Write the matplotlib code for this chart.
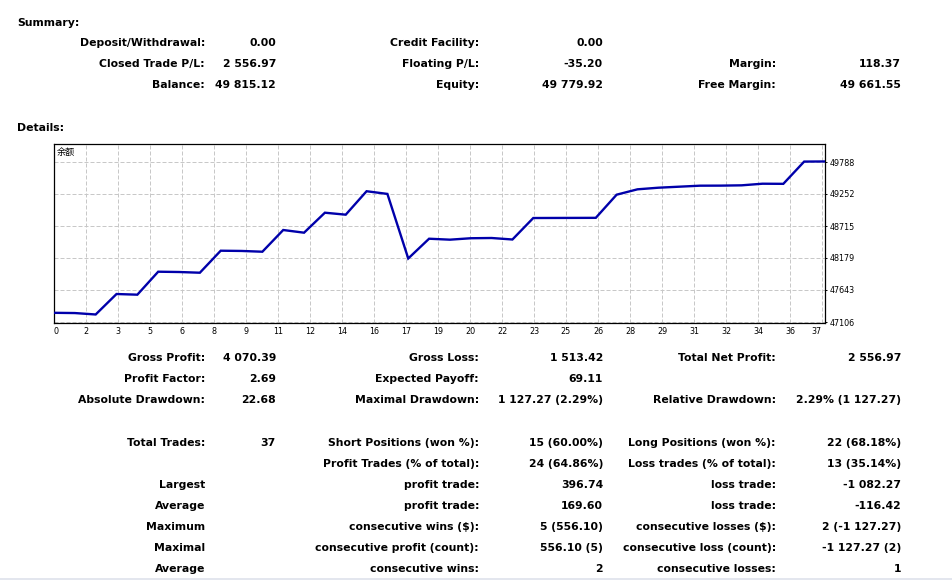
import matplotlib
matplotlib.use("Agg")
import matplotlib.pyplot as plt
import numpy as np

plt.rcParams['font.family'] = ['DejaVu Sans', 'Noto Sans CJK SC']
plt.rcParams['lines.scale_dashes'] = False

# ---------------- data ----------------
balance = [47260, 47256, 47232, 47575, 47564, 47949, 47944, 47932, 48301, 48297,
           48284, 48648, 48603, 48938, 48905, 49298, 49253, 48171, 48502, 48486,
           48510, 48514, 48489, 48849, 48850, 48851, 48852, 49240, 49330, 49357,
           49374, 49391, 49392, 49397, 49424, 49422, 49795, 49797]
x_tick_labels = ["0", "2", "3", "5", "6", "8", "9", "11", "12", "14", "16", "17", "19",
                 "20", "22", "23", "25", "26", "28", "29", "31", "32", "34", "36", "37"]
y_tick_values = [47106, 47643, 48179, 48715, 49252, 49788]
chart_label = "余额"

summary_rows = [
    [("Deposit/Withdrawal:", "0.00"), ("Credit Facility:", "0.00"), None],
    [("Closed Trade P/L:", "2 556.97"), ("Floating P/L:", "-35.20"), ("Margin:", "118.37")],
    [("Balance:", "49 815.12"), ("Equity:", "49 779.92"), ("Free Margin:", "49 661.55")],
]
details_rows = [
    [("Gross Profit:", "4 070.39"), ("Gross Loss:", "1 513.42"), ("Total Net Profit:", "2 556.97")],
    [("Profit Factor:", "2.69"), ("Expected Payoff:", "69.11"), None],
    [("Absolute Drawdown:", "22.68"), ("Maximal Drawdown:", "1 127.27 (2.29%)"), ("Relative Drawdown:", "2.29% (1 127.27)")],
    None,
    [("Total Trades:", "37"), ("Short Positions (won %):", "15 (60.00%)"), ("Long Positions (won %):", "22 (68.18%)")],
    [None, ("Profit Trades (% of total):", "24 (64.86%)"), ("Loss trades (% of total):", "13 (35.14%)")],
    [("Largest", ""), ("profit trade:", "396.74"), ("loss trade:", "-1 082.27")],
    [("Average", ""), ("profit trade:", "169.60"), ("loss trade:", "-116.42")],
    [("Maximum", ""), ("consecutive wins ($):", "5 (556.10)"), ("consecutive losses ($):", "2 (-1 127.27)")],
    [("Maximal", ""), ("consecutive profit (count):", "556.10 (5)"), ("consecutive loss (count):", "-1 127.27 (2)")],
    [("Average", ""), ("consecutive wins:", "2"), ("consecutive losses:", "1")],
]

# ---------------- figure ----------------
W, H = 953, 580
fig = plt.figure(figsize=(W / 100, H / 100), dpi=100)
fig.patch.set_facecolor('white')

def px(x, y):
    return x / W, 1 - y / H

FS = 7.8
TXT = '#000000'
label_x = [205, 479, 776]
value_x = [276, 603, 901]

def put(x, y, s, ha='right'):
    fx, fy = px(x, y)
    fig.text(fx, fy, s, ha=ha, va='baseline', fontsize=FS, fontweight='bold', color=TXT)

put(17, 25.5, "Summary:", ha='left')
for r, row in enumerate(summary_rows):
    yb = 46.3 + r * 20.8
    for c, cell in enumerate(row):
        if cell is None:
            continue
        put(label_x[c], yb, cell[0])
        put(value_x[c], yb, cell[1])

put(17, 131, "Details:", ha='left')
for r, row in enumerate(details_rows):
    if row is None:
        continue
    yb = 361.3 + r * 21.05
    for c, cell in enumerate(row):
        if cell is None:
            continue
        put(label_x[c], yb, cell[0])
        if cell[1]:
            put(value_x[c], yb, cell[1])

# ---------------- chart ----------------
L, R, T, B = 54, 825, 144, 323
ax = fig.add_axes([L / W, 1 - B / H, (R - L) / W, (B - T) / H])
n = len(balance) - 1
px_per_val = (y_tick_values[-1] - y_tick_values[0]) / (5 * 32.0)
ymin = y_tick_values[0] - 1 * px_per_val
ymax = y_tick_values[0] + 178 * px_per_val
ax.set_xlim(0, n)
ax.set_ylim(ymin, ymax)

xs = np.arange(len(balance))
ax.plot(xs, balance, color='#0000AA', lw=1.7, solid_joinstyle='miter', zorder=3)

grid_step = n * 32.0 / (R - L)
xt = [k * grid_step for k in range(len(x_tick_labels))]
xt[-1] = min(xt[-1], n)
ax.set_xticks(xt)
ax.set_xticklabels(x_tick_labels)
ax.tick_params(axis='x', length=0, pad=3.2, labelsize=5.8, colors='black')
labs = ax.get_xticklabels()
labs[0].set_ha('left')
labs[-1].set_ha('right')

ax.yaxis.tick_right()
ax.set_yticks(y_tick_values)
ax.set_yticklabels([str(v) for v in y_tick_values])
ax.tick_params(axis='y', length=1.5, width=0.7, pad=2.0, labelsize=5.8, colors='black')

for xv in xt[1:]:
    ax.axvline(xv, color='#c8c8c8', lw=0.72, dashes=(2.88, 1.44), zorder=1)
for yv in y_tick_values:
    ax.axhline(yv, color='#c8c8c8', lw=0.72, dashes=(2.88, 1.44), zorder=1)

for sp in ax.spines.values():
    sp.set_color('black')
    sp.set_linewidth(0.9)

ax.text(0.004, 0.978, chart_label, transform=ax.transAxes, ha='left', va='top',
        fontsize=6.6, family=['Noto Sans CJK SC', 'DejaVu Sans'], color='black')

# bottom page edge band
fig.add_artist(plt.Rectangle((0, 0), 1, 2.5 / H, transform=fig.transFigure,
                             color='#e3e6ee', lw=0))

fig.savefig('out.png', dpi=100, facecolor='white')
